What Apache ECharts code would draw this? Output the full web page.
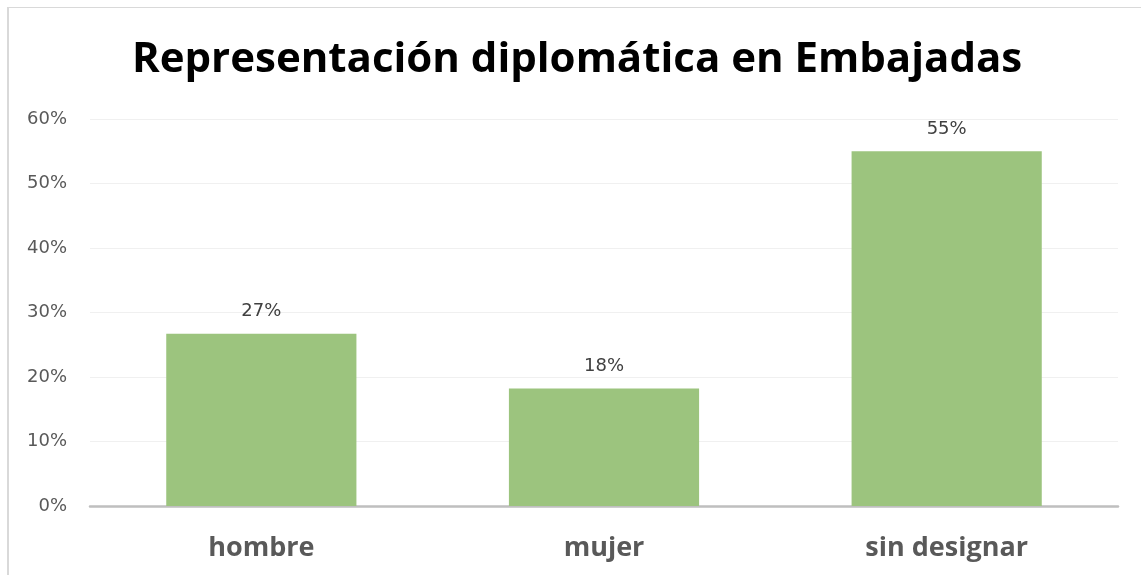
<!DOCTYPE html>
<html>
<head>
<meta charset="utf-8">
<script src="https://cdn.jsdelivr.net/npm/echarts@6/dist/echarts.min.js"></script>
<style>
    html, body { margin: 0; padding: 0; background: #fff; }
    #chart { width: 1141px; height: 575px; position: relative; }
    #frame { position: absolute; left: 7px; top: 7px; right: -5px; bottom: -5px;
             border-left: 2px solid #D9D9D9; border-top: 1px solid #D9D9D9; pointer-events: none; }
</style>
</head>
<body>
<div id="chart"></div>
<div id="frame"></div>
<script>
let categories = ['hombre', 'mujer', 'sin designar'];
let values = [26.7, 18.2, 55.0];
let tickLabels = ['0%', '10%', '20%', '30%', '40%', '50%', '60%'];

let myChart = echarts.init(document.getElementById('chart'));

let option = {
    animation: false,
    title: {
        text: 'Representación diplomática en Embajadas',
        left: 127,
        top: 34,
        textStyle: {
            fontFamily: 'Open Sans',
            fontWeight: 'bold',
            fontSize: 42,
            color: '#000'
        }
    },
    grid: {
        left: 90,
        right: 23,
        top: 119,
        bottom: 69
    },
    xAxis: {
        type: 'category',
        data: categories,
        axisLine: { lineStyle: { color: '#BFBFBF', width: 2.5 } },
        axisTick: { show: false },
        axisLabel: {
            margin: 29,
            fontFamily: 'Open Sans',
            fontWeight: 'bold',
            fontSize: 27,
            color: '#595959'
        }
    },
    yAxis: {
        type: 'value',
        min: 0,
        max: 60,
        interval: 10,
        axisLine: { show: false },
        axisTick: { show: false },
        splitLine: { lineStyle: { color: '#F0F0F0', width: 1 } },
        axisLabel: {
            margin: 23,
            fontFamily: 'DejaVu Sans',
            fontSize: 18,
            color: '#595959',
            formatter: function (v) {
                return tickLabels[Math.round(v / 10)];
            }
        }
    },
    series: [{
        type: 'bar',
        data: values,
        barCategoryGap: '44.5%',
        itemStyle: { color: '#9CC47E' },
        label: {
            show: true,
            position: 'top',
            distance: 13,
            fontFamily: 'DejaVu Sans',
            fontSize: 18,
            color: '#404040',
            formatter: function (p) {
                return Math.round(p.value) + '%';
            }
        }
    }]
};
myChart.setOption(option);
</script>
</body>
</html>
